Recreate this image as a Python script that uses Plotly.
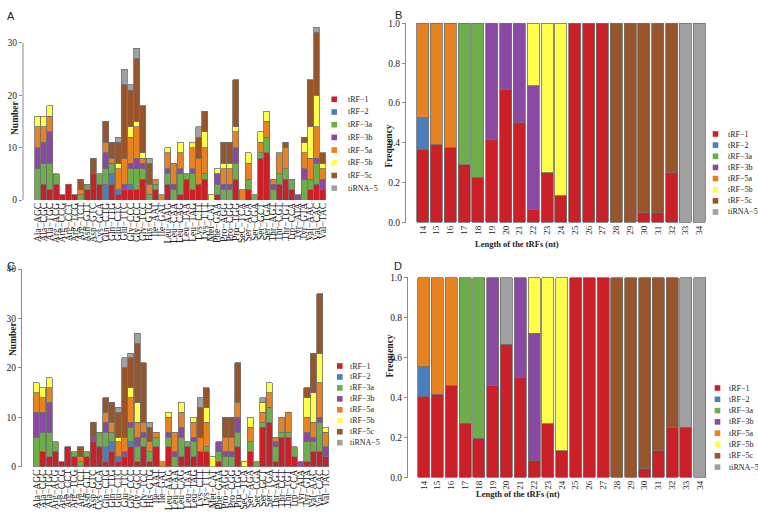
import plotly.graph_objects as go

W, H = 758, 516

types = ["tRF−1", "tRF−2", "tRF−3a", "tRF−3b", "tRF−5a", "tRF−5b", "tRF−5c", "tiRNA−5"]
colors = ["#CB2027", "#4A7FBE", "#6DAE4B", "#8A4AA3", "#E8811F", "#FFFF4A", "#98542A", "#A0A0A0"]

trna = ["Ala−AGC", "Ala−CGC", "Ala−TGC", "Arg−ACG", "Arg−CCG", "Arg−CCT", "Arg−TCG", "Arg−TCT",
        "Asn−GTT", "Asp−GTC", "Cys−GCA", "Gln−CTG", "Gln−TTG", "Glu−CTC", "Glu−TTC", "Gly−CCC",
        "Gly−GCC", "Gly−TCC", "His−GTG", "Ile−AAT", "Ile−GAT", "Leu−AAG", "Leu−CAA", "Leu−CAG",
        "Leu−TAA", "Leu−TAG", "Lys−CTT", "Lys−TTT", "Met−CAT", "Phe−GAA", "Pro−AGG", "Pro−CGG",
        "Pro−TGG", "SeC−TCA", "Ser−AGA", "Ser−CGA", "Ser−GCT", "Ser−TGA", "Thr−AGT", "Thr−CGT",
        "Thr−TGT", "Trp−CCA", "Tyr−ATA", "Tyr−GTA", "Val−AAC", "Val−CAC", "Val−TAC"]

# Panel A: counts per tRNA
trf1_A = [0,3,2,3,1,3,1,0,2,5, 3,0,3,1,2,2,2,4,0,2, 0,3,0,1,4,2,3,4,0,1, 0,0,4,0,2,0,8,9,0,3, 4,2,0,0,2,3,2]
trf2_A = [0,0,0,0,0,0,0,0,0,0, 0,3,2,1,0,1,0,0,0,0, 0,0,0,0,0,0,0,0,0,0, 0,0,0,0,0,0,0,0,0,0, 0,0,0,0,0,0,0]
trf3a_A = [6,4,5,2,0,0,0,1,1,0, 2,3,2,0,0,3,4,2,1,1, 0,2,2,4,1,3,0,1,0,2, 2,2,3,0,2,1,1,3,2,2, 2,2,0,4,2,4,0]
trf3b_A = [4,4,6,0,0,0,0,0,0,0, 0,3,0,0,1,1,2,1,0,0, 0,1,1,1,0,1,0,0,0,2, 1,1,3,0,0,0,0,0,1,0, 0,0,1,2,0,1,2]
trf5a_A = [4,3,3,0,0,0,0,1,0,0, 0,2,1,4,5,5,6,1,2,1, 1,3,4,3,0,4,5,5,0,0, 3,3,3,2,3,0,2,3,1,4, 4,0,0,3,4,6,2]
trf5b_A = [2,2,2,0,0,0,0,0,0,0, 0,0,0,1,0,2,1,1,0,0, 0,1,0,2,0,1,0,3,1,1, 1,1,1,0,2,0,2,2,0,0, 0,0,0,2,6,6,1]
trf5c_A = [0,0,0,0,0,0,0,2,0,3, 0,4,3,4,14,7,12,9,4,0, 0,0,0,0,0,0,4,4,0,0, 4,4,9,0,0,0,0,0,0,0, 1,0,0,1,9,12,2]
tirna_A = [0,0,0,0,0,0,0,0,0,0, 0,0,0,1,3,1,2,0,1,0, 0,0,0,0,0,0,2,0,0,0, 0,0,0,0,0,0,0,0,0,0, 0,0,0,0,0,1,0]

# Panel C: counts per tRNA
trf1_C = [0,3,2,3,1,4,2,0,2,5, 4,1,3,1,2,4,1,4,1,4, 0,4,0,2,4,2,3,3,0,1, 0,0,4,0,3,0,8,9,1,6, 6,2,0,1,3,3,2]
trf2_C = [0,0,0,0,0,0,0,0,0,0, 0,3,2,1,0,1,0,0,0,0, 0,0,0,0,0,0,0,0,0,0, 0,0,0,0,0,0,0,0,0,0, 0,0,0,0,0,0,0]
trf3a_C = [6,4,5,2,0,0,1,1,1,0, 3,3,2,0,0,3,3,2,2,2, 0,2,2,4,1,3,0,1,0,2, 2,2,3,0,2,1,1,3,3,1, 1,2,0,4,2,6,0]
trf3b_C = [5,4,6,0,0,0,0,0,0,1, 0,2,0,0,1,1,2,1,0,0, 0,1,1,2,0,1,0,0,0,2, 1,1,3,0,0,0,0,0,1,0, 0,0,1,2,1,1,2]
trf5a_C = [4,3,3,0,0,0,0,1,0,0, 0,2,2,3,3,5,3,2,2,1, 1,3,4,3,0,3,3,5,0,0, 3,3,3,0,3,0,2,3,1,3, 4,0,0,3,3,7,3]
trf5b_C = [2,2,2,0,0,0,0,0,0,0, 0,0,0,1,0,2,4,0,0,0, 0,1,0,2,0,1,0,3,2,0, 0,0,0,1,2,0,2,2,0,0, 0,0,0,4,6,6,1]
trf5c_C = [0,0,0,0,0,0,0,2,0,3, 0,3,4,5,14,6,12,12,3,0, 0,0,0,0,0,0,6,4,0,0, 4,4,8,0,0,0,0,0,0,0, 0,0,0,2,8,12,0]
tirna_C = [0,0,0,0,0,0,0,0,0,0, 0,0,0,1,2,1,2,0,1,0, 0,0,0,0,0,0,2,0,0,0, 0,0,0,0,0,0,1,0,0,0, 0,0,0,0,0,0,0]

lengths = list(range(14, 35))

# Panel B: frequency per length
trf1_B = [0.365,0.39,0.375,0.29,0.225,0.417,0.667,0.5,0.0625,0.25,0.133,1,1,1,0,0,0.05,0.05,0.25,0,0]
trf2_B = [0.16,0,0,0,0,0,0,0,0,0,0,0,0,0,0,0,0,0,0,0,0]
trf3a_B = [0,0,0,0.71,0.775,0,0,0,0,0,0,0,0,0,0,0,0,0,0,0,0]
trf3b_B = [0,0,0,0,0,0.583,0.333,0.5,0.625,0,0,0,0,0,0,0,0,0,0,0,0]
trf5a_B = [0.475,0.61,0.625,0,0,0,0,0,0,0,0,0,0,0,0,0,0,0,0,0,0]
trf5b_B = [0,0,0,0,0,0,0,0,0.3125,0.75,0.867,0,0,0,0,0,0,0,0,0,0]
trf5c_B = [0,0,0,0,0,0,0,0,0,0,0,0,0,0,1,1,0.95,0.95,0.75,0,0]
tirna_B = [0,0,0,0,0,0,0,0,0,0,0,0,0,0,0,0,0,0,0,1,1]

# Panel D: frequency per length
trf1_D = [0.405,0.415,0.458,0.27,0.195,0.462,0.667,0.5,0.083,0.267,0.133,1,1,1,0,0,0.045,0.136,0.25,0.25,0]
trf2_D = [0.148,0,0,0,0,0,0,0,0,0,0,0,0,0,0,0,0,0,0,0,0]
trf3a_D = [0,0,0,0.73,0.805,0,0,0,0,0,0,0,0,0,0,0,0,0,0,0,0]
trf3b_D = [0,0,0,0,0,0.538,0,0.5,0.639,0,0,0,0,0,0,0,0,0,0,0,0]
trf5a_D = [0.447,0.585,0.542,0,0,0,0,0,0,0,0,0,0,0,0,0,0,0,0,0,0]
trf5b_D = [0,0,0,0,0,0,0,0,0.278,0.733,0.867,0,0,0,0,0,0,0,0,0,0]
trf5c_D = [0,0,0,0,0,0,0,0,0,0,0,0,0,0,1,1,0.955,0.864,0.75,0,0]
tirna_D = [0,0,0,0,0,0,0.333,0,0,0,0,0,0,0,0,0,0,0,0,0.75,1]

series_A = [trf1_A, trf2_A, trf3a_A, trf3b_A, trf5a_A, trf5b_A, trf5c_A, tirna_A]
series_C = [trf1_C, trf2_C, trf3a_C, trf3b_C, trf5a_C, trf5b_C, trf5c_C, tirna_C]
series_B = [trf1_B, trf2_B, trf3a_B, trf3b_B, trf5a_B, trf5b_B, trf5c_B, tirna_B]
series_D = [trf1_D, trf2_D, trf3a_D, trf3b_D, trf5a_D, trf5b_D, trf5c_D, tirna_D]

SERIF = "Liberation Serif, Times New Roman, serif"
SANS = "Liberation Sans, Arial, sans-serif"


def fx(p):
    return p / W


def fy(p):
    return 1 - p / H


fig = go.Figure()


def add_bars(xvals, series, xa, ya, width):
    for name, col, vals in zip(types, colors, series):
        fig.add_trace(go.Bar(
            x=xvals, y=[v if v else None for v in vals], name=name,
            marker=dict(color=col, line=dict(color="#6f6f6f", width=0.8)),
            width=width, xaxis=xa, yaxis=ya, showlegend=False,
        ))


add_bars(trna, series_A, "x", "y", 0.96)
add_bars(lengths, series_B, "x2", "y2", 0.87)
add_bars(trna, series_C, "x3", "y3", 0.96)
add_bars(lengths, series_D, "x4", "y4", 0.87)

cat_x = dict(type="category", tickmode="array", tickvals=trna, ticktext=trna, tickangle=-90,
             tickfont=dict(family=SERIF, size=9.5, color="#222"), showgrid=False,
             zeroline=False, showline=False, ticks="", automargin=False)
len_x = dict(tickmode="array", tickvals=lengths, ticktext=[str(v) for v in lengths], tickangle=-90,
             tickfont=dict(family=SERIF, size=9, color="#222"), showgrid=False,
             zeroline=False, showline=False, ticks="", automargin=False)
yax = dict(showgrid=False, zeroline=False, ticks="outside", ticklen=3, tickwidth=1,
           tickcolor="#8a8a8a", tickfont=dict(family=SERIF, size=9.5, color="#222"),
           automargin=False)

fig.update_layout(
    width=W, height=H, autosize=False,
    margin=dict(l=0, r=0, t=0, b=0, pad=0, autoexpand=False),
    paper_bgcolor="white", plot_bgcolor="white", barmode="stack", showlegend=False,
    xaxis=dict(cat_x, domain=[fx(23), fx(325.8)], range=[-2.34, 46.5], anchor="y"),
    yaxis=dict(yax, domain=[fy(200), fy(22)], range=[0, 34], tickvals=[0, 10, 20, 30],
               showline=False, anchor="x"),
    xaxis2=dict(len_x, domain=[fx(406), fx(706.2)], range=[12.8, 34.5], anchor="y2"),
    yaxis2=dict(yax, domain=[fy(223), fy(22.7)], range=[-0.004, 1.004],
                tickvals=[0, 0.2, 0.4, 0.6, 0.8, 1.0], tickformat=".1f",
                showline=True, linecolor="#8a8a8a", linewidth=1, anchor="x2"),
    xaxis3=dict(cat_x, domain=[fx(22), fx(329)], range=[-2.3, 46.5], anchor="y3"),
    yaxis3=dict(yax, domain=[fy(466.7), fy(269)], range=[0, 40], tickvals=[0, 10, 20, 30, 40],
                showline=True, linecolor="#8a8a8a", linewidth=1, anchor="x3"),
    xaxis4=dict(len_x, domain=[fx(408), fx(706.7)], range=[12.87, 34.5], anchor="y4"),
    yaxis4=dict(yax, domain=[fy(478), fy(277)], range=[-0.004, 1.004],
                tickvals=[0, 0.2, 0.4, 0.6, 0.8, 1.0], tickformat=".1f",
                showline=True, linecolor="#8a8a8a", linewidth=1, anchor="x4"),
)

# y axis line of panel A spans only the tick range (0-30)
fig.add_shape(type="line", xref="x domain", yref="y", x0=0, x1=0, y0=0, y1=30,
              line=dict(color="#8a8a8a", width=1))

ann = []
# panel letters
for letter, (lx, ly) in zip("ABCD", [(5, 8), (398, 6.5), (5, 266), (398, 265.5)]):
    ann.append(dict(text=letter, x=fx(lx), y=fy(ly), xref="paper", yref="paper",
                    showarrow=False, font=dict(family=SANS, size=11, color="#222")))
# axis titles
for (tx, ty) in [(7.5, 98), (5.5, 358)]:
    ann.append(dict(text="<b>Number</b>", x=fx(tx), y=fy(ty), xref="paper", yref="paper",
                    textangle=-90, showarrow=False, font=dict(family=SERIF, size=9.5, color="#222")))
for (tx, ty) in [(388, 123), (389, 380)]:
    ann.append(dict(text="<b>Frequency</b>", x=fx(tx), y=fy(ty), xref="paper", yref="paper",
                    textangle=-90, showarrow=False, font=dict(family=SERIF, size=9.5, color="#222")))
for (tx, ty) in [(561, 244), (562, 501)]:
    ann.append(dict(text="<b>Length of the tRFs (nt)</b>", x=fx(tx), y=fy(ty), xref="paper",
                    yref="paper", showarrow=False, font=dict(family=SERIF, size=8.5, color="#222")))

# legends (one per panel)
legend_pos = [(334.2, 99.3, 12.7, 345.5), (715.5, 134, 11.14, 725.5),
              (339.8, 366, 10.95, 347.5), (717.5, 388, 11.3, 727.0)]
s = 2.8
for (mx, y0, step, tx) in legend_pos:
    for i, (name, col) in enumerate(zip(types, colors)):
        cy = y0 + i * step
        fig.add_shape(type="rect", xref="paper", yref="paper",
                      x0=fx(mx - s), x1=fx(mx + s), y0=fy(cy + s), y1=fy(cy - s),
                      fillcolor=col, line=dict(width=0))
        ann.append(dict(text=name, x=fx(tx), y=fy(cy), xref="paper", yref="paper",
                        xanchor="left", yanchor="middle", showarrow=False,
                        font=dict(family=SERIF, size=8, color="#222")))

fig.update_layout(annotations=ann)
fig.write_html("out.html", config={"responsive": False, "displayModeBar": False},
               post_script="document.body.style.margin='0';document.body.style.overflow='hidden';")
